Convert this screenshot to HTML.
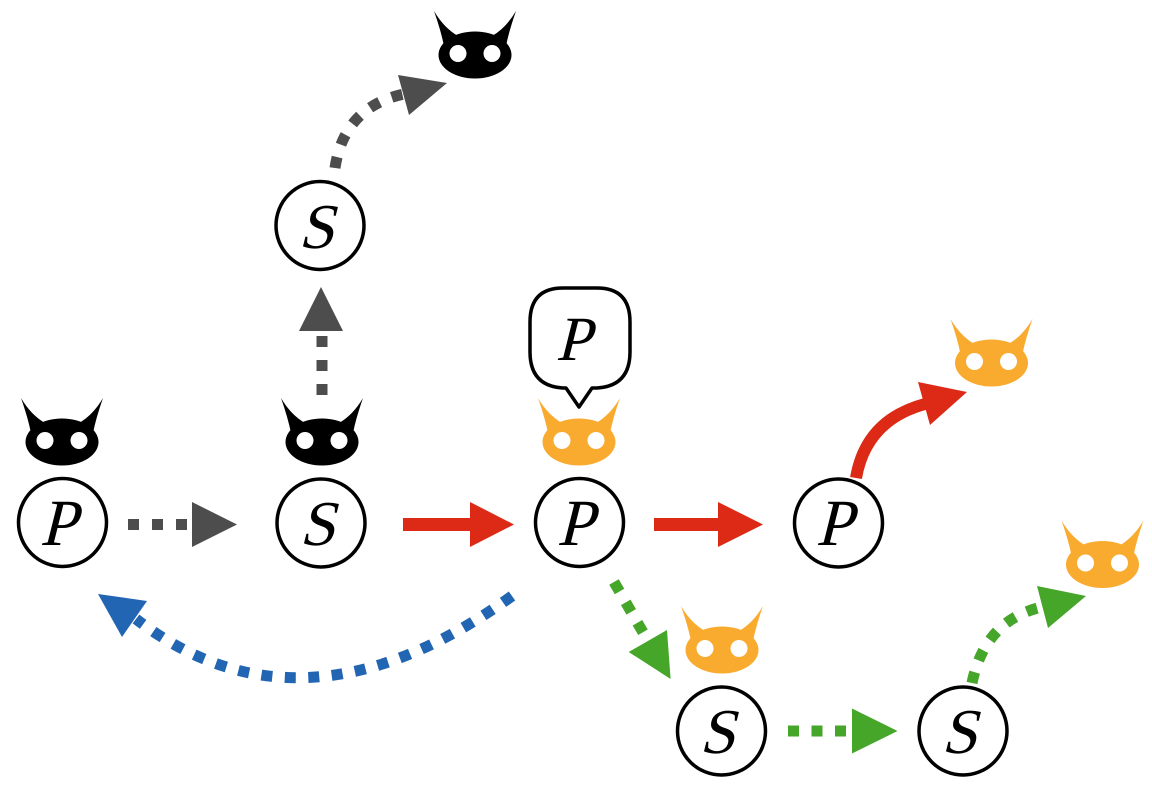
<!DOCTYPE html>
<html>
<head>
<meta charset="utf-8">
<style>
  html, body { margin: 0; padding: 0; background: #ffffff; }
  svg { display: block; }
  .lb { font-family: "Liberation Serif", "DejaVu Serif", "Noto Serif CJK SC", "Times New Roman", serif; }
</style>
</head>
<body>
<svg width="1152" height="787" viewBox="0 0 1152 787" xmlns="http://www.w3.org/2000/svg">
  <defs>
    <g id="cat">
      <path d="M -41,-44 Q -34,-24 -31,-9 L -17,-19 Q -31,-27 -41,-44 Z"/>
      <path d="M 41,-44 Q 34,-24 31,-9 L 17,-19 Q 31,-27 41,-44 Z"/>
      <ellipse cx="0" cy="0" rx="36.5" ry="23.5"/>
      <circle cx="-17" cy="-1.5" r="8.5" fill="#fff"/>
      <circle cx="17" cy="-1.5" r="8.5" fill="#fff"/>
    </g>
  </defs>

  <!-- Cats -->
  <use href="#cat" x="62" y="442" fill="#000"/>
  <use href="#cat" x="322" y="442" fill="#000"/>
  <use href="#cat" x="475" y="55" fill="#000"/>
  <use href="#cat" x="579" y="442" fill="#f9ab2f"/>
  <use href="#cat" x="991.5" y="363" fill="#f9ab2f"/>
  <use href="#cat" x="722" y="650" fill="#f9ab2f"/>
  <use href="#cat" x="1102.5" y="564.5" fill="#f9ab2f"/>

  <!-- Node circles -->
  <g fill="#fff" stroke="#000" stroke-width="3.5">
    <circle cx="62.5" cy="522.5" r="44"/>
    <circle cx="321" cy="523" r="44"/>
    <circle cx="579.5" cy="522.5" r="44"/>
    <circle cx="838.5" cy="523" r="44"/>
    <circle cx="320" cy="225.5" r="44"/>
    <circle cx="721.5" cy="731" r="44"/>
    <circle cx="963" cy="731" r="44"/>
  </g>

  <!-- Labels (upright serif, skewed to italic) -->
  <g class="lb" fill="#000" text-anchor="middle">
    <text transform="translate(58,545) skewX(-14)" font-size="66">P</text>
    <text transform="translate(317,545) skewX(-14)" font-size="64">S</text>
    <text transform="translate(575,545) skewX(-14)" font-size="66">P</text>
    <text transform="translate(834,545) skewX(-14)" font-size="66">P</text>
    <text transform="translate(316,248) skewX(-14)" font-size="64">S</text>
    <text transform="translate(717,753) skewX(-14)" font-size="64">S</text>
    <text transform="translate(959,753) skewX(-14)" font-size="64">S</text>
  </g>

  <!-- Speech bubble -->
  <path d="M 563,288 L 597,288 Q 630,288 630,322 L 630,352 Q 630,386 597,388 L 592,388 L 579,407 L 566,388 L 563,388 Q 530,386 530,352 L 530,322 Q 530,288 563,288 Z"
        fill="#fff" stroke="#000" stroke-width="3.5" stroke-linejoin="round"/>
  <text class="lb" transform="translate(573,360) skewX(-14)" font-size="63" fill="#000" text-anchor="middle">P</text>

  <!-- Gray arrows -->
  <g stroke="#4d4d4d" stroke-width="11" fill="none" stroke-dasharray="11 13">
    <line x1="128" y1="524.5" x2="192" y2="524.5"/>
    <line x1="322" y1="395" x2="322" y2="331"/>
    <path d="M 335,168 Q 344,107 404,94"/>
  </g>
  <g fill="#4d4d4d">
    <polygon points="192,502 192,547 237,524.5"/>
    <polygon points="299,331 343,331 321,287"/>
    <polygon points="398,75 447,83 409,115"/>
  </g>

  <!-- Red arrows -->
  <g fill="#dd2a16">
    <rect x="403" y="518" width="69" height="13"/>
    <polygon points="470,502 470,547 514,524.5"/>
    <rect x="654" y="518" width="66" height="13"/>
    <polygon points="718,502 718,547 763,524.5"/>
    <polygon points="918,382 967,392 930,425"/>
  </g>
  <path d="M 856,478 Q 866,420 925,404" stroke="#dd2a16" stroke-width="12" fill="none"/>

  <!-- Blue arrow -->
  <path d="M 512,596 Q 302,747 136,619" stroke="#2265b2" stroke-width="11" fill="none" stroke-dasharray="11 12.5"/>
  <polygon points="98,594 147,601 122,637" fill="#2265b2"/>

  <!-- Green arrows -->
  <g stroke="#45a62a" stroke-width="11" fill="none" stroke-dasharray="11 12.5">
    <line x1="614" y1="582" x2="648" y2="641"/>
    <line x1="788" y1="731" x2="852" y2="731"/>
    <path d="M 972,683 Q 985,620 1042,607"/>
  </g>
  <g fill="#45a62a">
    <polygon points="628.7,652 667,630 670.6,679"/>
    <polygon points="852,708.5 852,753.5 897.5,731"/>
    <polygon points="1037,586 1086,596 1048,628"/>
  </g>
</svg>
</body>
</html>
